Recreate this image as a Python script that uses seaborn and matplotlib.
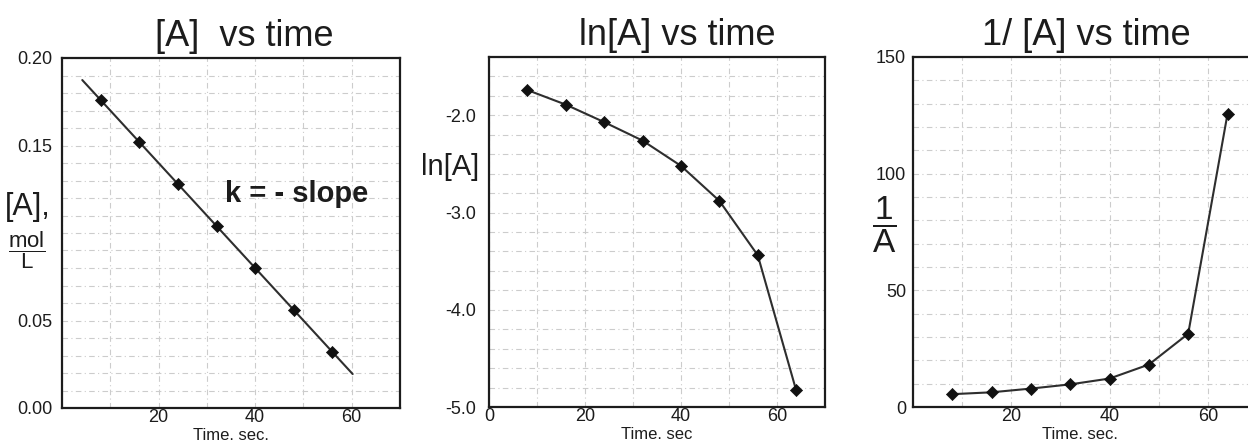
"""Three rate-law panels: [A], ln[A] and 1/[A] against time."""

import matplotlib.pyplot as plt
import numpy as np
import seaborn as sns
from matplotlib.ticker import MultipleLocator

# values
TIME = [8, 16, 24, 32, 40, 48, 56, 64]
CONC = [0.176, 0.152, 0.128, 0.104, 0.080, 0.056, 0.032]
LN_CONC = [-1.74, -1.89, -2.07, -2.26, -2.52, -2.88, -3.44, -4.83]
INV_CONC = [5.5, 6.3, 7.9, 9.7, 12.2, 18.2, 31.4, 125.6]
FIT_TIME = [4.2, 60.2]

X_TICKS_A = [20, 40, 60]
X_TICKS_LN = [0, 20, 40, 60]
Y_TICKS_A = [0.0, 0.05, 0.15, 0.20]
Y_TICKS_LN = [-5.0, -4.0, -3.0, -2.0]
Y_TICKS_INV = [0, 50, 100, 150]

INK = "#1c1c1c"
LINE = "#2e2e2e"
GRID = "#cccccc"

W, H = 1248, 447


def style_axes(ax, xminor, yminor):
    ax.xaxis.set_minor_locator(MultipleLocator(xminor))
    ax.yaxis.set_minor_locator(MultipleLocator(yminor))
    ax.grid(True, which="both", color=GRID, linewidth=0.8,
            linestyle=(0, (5, 3, 1, 3)))
    ax.set_axisbelow(True)
    for spine in ax.spines.values():
        spine.set_visible(True)
        spine.set_color(INK)
        spine.set_linewidth(1.6)
    ax.tick_params(which="major", direction="in", length=3, width=1,
                   colors=INK, labelsize=13)
    ax.tick_params(axis="x", pad=1)
    ax.tick_params(axis="y", pad=7)
    ax.tick_params(which="minor", length=0)
    ax.set_xlabel("")
    ax.set_ylabel("")


def draw_series(ax, x, y):
    sns.lineplot(x=x, y=y, ax=ax, color=LINE, linewidth=1.5)
    sns.scatterplot(x=x, y=y, ax=ax, marker="D", s=38, color="#111111",
                    edgecolor="#111111", linewidth=0.5, zorder=3)


def title(ax, text, x=0.5):
    ax.text(x, 1.035, text, transform=ax.transAxes, ha="center",
            va="baseline", fontsize=26, color=INK)


def xlabel(ax, text, x=0.5):
    ax.text(x, -0.058, text, transform=ax.transAxes, ha="center",
            va="top", fontsize=12, color=INK)


def main() -> None:
    sns.set_theme(style="white")
    plt.rcParams["font.family"] = ["Liberation Sans", "DejaVu Sans"]
    plt.rcParams["mathtext.fontset"] = "custom"
    plt.rcParams["mathtext.rm"] = "Liberation Sans"
    plt.rcParams["mathtext.sf"] = "Liberation Sans"

    fig = plt.figure(figsize=(W / 100, H / 100), dpi=100)
    ax1 = fig.add_axes([62 / W, 1 - 408 / H, 338 / W, 350 / H])
    ax2 = fig.add_axes([489 / W, 1 - 407 / H, 336 / W, 350 / H])
    ax3 = fig.add_axes([913 / W, 1 - 407 / H, 344 / W, 350 / H])

    # [A] vs time, straight-line fit through the points
    slope, intercept = np.polyfit(TIME[: len(CONC)], CONC, 1)
    fit_y = [slope * t + intercept for t in FIT_TIME]
    sns.lineplot(x=FIT_TIME, y=fit_y, ax=ax1, color=LINE, linewidth=1.5)
    sns.scatterplot(x=TIME[: len(CONC)], y=CONC, ax=ax1, marker="D", s=38,
                    color="#111111", edgecolor="#111111", linewidth=0.5,
                    zorder=3)
    ax1.set_xlim(0, 70)
    ax1.set_ylim(0, 0.20)
    ax1.set_xticks(X_TICKS_A)
    ax1.set_yticks(Y_TICKS_A)
    ax1.set_yticklabels([f"{v:.2f}" for v in Y_TICKS_A])
    style_axes(ax1, 10, 0.01)
    title(ax1, "[A]  vs time", x=0.54)
    xlabel(ax1, "Time. sec.")
    ax1.text(-0.10, 0.575, "[A],", transform=ax1.transAxes, ha="center",
             va="center", fontsize=22, color=INK)
    ax1.text(-0.105, 0.45, r"$\dfrac{\mathsf{mol}}{\mathsf{L}}$",
             transform=ax1.transAxes, ha="center", va="center",
             fontsize=16, color=INK)
    ax1.text(48.5, 0.122, "k = - slope", ha="center", va="center",
             fontsize=21, fontweight="bold", color=INK)

    # ln[A] vs time
    draw_series(ax2, TIME, LN_CONC)
    ax2.set_xlim(0, 70)
    ax2.set_ylim(-5.0, -1.4)
    ax2.set_xticks(X_TICKS_LN)
    ax2.set_yticks(Y_TICKS_LN)
    ax2.set_yticklabels([f"{v:.1f}" for v in Y_TICKS_LN])
    style_axes(ax2, 10, 0.2)
    ax2.tick_params(axis="y", pad=9)
    title(ax2, "ln[A] vs time", x=0.56)
    xlabel(ax2, "Time. sec")
    ax2.text(-0.115, 0.685, "ln[A]", transform=ax2.transAxes, ha="center",
             va="center", fontsize=21, color=INK)

    # 1/[A] vs time
    draw_series(ax3, TIME, INV_CONC)
    ax3.set_xlim(0, 70)
    ax3.set_ylim(0, 150)
    ax3.set_xticks(X_TICKS_A)
    ax3.set_yticks(Y_TICKS_INV)
    style_axes(ax3, 10, 10)
    ax3.tick_params(axis="y", pad=5)
    title(ax3, "1/ [A] vs time", x=0.505)
    xlabel(ax3, "Time. sec.", x=0.5 * 333 / 344)
    ax3.text(-0.085, 0.52, r"$\dfrac{\mathsf{1}}{\mathsf{A}}$",
             transform=ax3.transAxes, ha="center", va="center",
             fontsize=24, color=INK)

    fig.savefig("out.png", dpi=100)
    plt.close(fig)


if __name__ == "__main__":
    main()
